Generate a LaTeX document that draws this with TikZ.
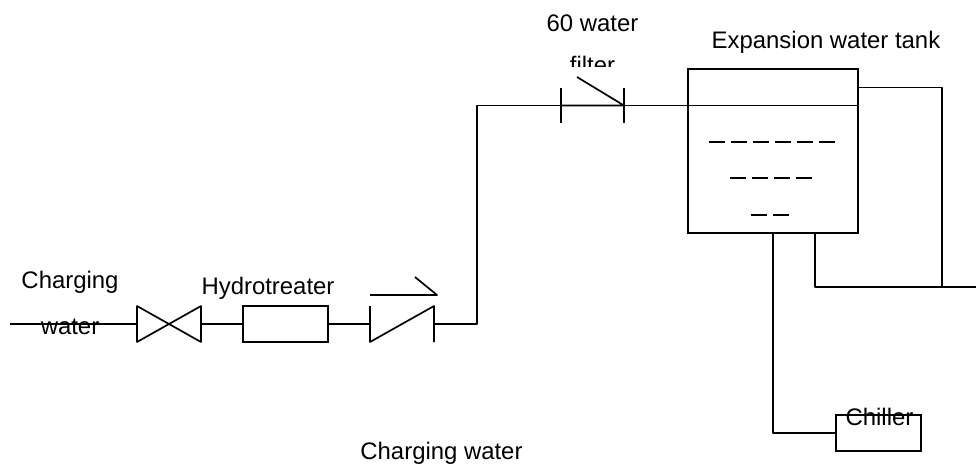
\documentclass[tikz,border=0pt]{standalone}
\usepackage{fontspec}
\setmainfont{Liberation Sans}
\usetikzlibrary{positioning}

\begin{document}
\begin{tikzpicture}[x=0.025cm, y=-0.025cm,
        pipe/.style={draw=black, line width=1.2pt, line join=round},
        vessel/.style={draw=black, line width=1.2pt, inner sep=0pt},
        unit/.style={vessel, minimum width=2.125cm, minimum height=0.9cm},
        label/.style={font=\fontsize{17pt}{20pt}\selectfont, anchor=base, inner sep=0pt},
        level/.style={pipe, dash pattern=on 0.4cm off 0.15cm},
      ]
        \useasboundingbox (0,0) rectangle (976,463);

        % equipment
        \node[vessel, minimum width=4.25cm, minimum height=4.1cm] (tank) at (773,151) {};
        \node[unit] (hydro) at (285.5,324) {};
        \node[unit] (chiller) at (878.5,433) {};

        % free ends and corners of the line
        \coordinate (inlet) at (10,324);
        \coordinate (valveL) at (137,324);
        \coordinate (valveM) at (169,324);
        \coordinate (valveR) at (201,324);
        \coordinate (checkL) at (370,324);
        \coordinate (checkR) at (434,324);
        \coordinate (filterL) at (561,105.5);
        \coordinate (filterR) at (624,105.5);
        \coordinate (riser) at (477,105.5);
        \coordinate (surfL) at (688,105.5);
        \coordinate (surfR) at (858,105.5);
        \coordinate (overflow) at (858,87.5);
        \coordinate (tee) at (942,287);
        \coordinate (drain) at (815,233);
        \coordinate (outlet) at (976,287);

        % charging line
        \draw[pipe] (inlet) -- (valveL);
        \draw[pipe] (valveL) -- ++(0,-18) -- ++(64,36) -- ++(0,-36) -- ++(-64,36) -- cycle;
        \draw[pipe] (valveR) -- (hydro);
        \draw[pipe] (hydro) -- (checkL);
        \draw[pipe] (checkL) ++(0,-18) -- ++(0,36) -- ++(64,-36) -- ++(0,36);
        \draw[pipe] (checkL) ++(0,-29) -- ++(67,0) -- ++(-22,-18);
        \draw[pipe] (checkR) -| (riser) -- (filterL);
        \draw[pipe] (filterL) ++(0,-17.5) -- ++(0,35);
        \draw[pipe] (filterR) ++(0,-17.5) -- ++(0,35);
        \draw[pipe] (filterL) -- (filterR) -- ++(-47,-28.5);
        \draw[pipe] (filterR) -- (surfL);

        % tank
        \draw[pipe] (surfL) -- (surfR);
        \draw[level] (709,142) -- (835,142);
        \draw[level] (730,178) -- (813,178);
        \draw[level] (751,215) -- (790,215);
        \draw[pipe] (overflow) -| (tee);
        \draw[pipe] (drain) |- (outlet);
        \draw[pipe] (tank.south) |- (chiller.west);

        % labels
        \node[label] (charge) at (70,288) {Charging};
        \node[label] (water) at (70,334) {water};
        \node[label] (hydrolabel) at (268,294) {Hydrotreater};
        \node[label] (sixty) at (592.5,31) {60 water};
        \begin{scope}
          \clip (540,40) rectangle (660,66);
          \node[label] (filter) at (592.5,73) {filter};
        \end{scope}
        \node[label] (tanklabel) at (826,48) {Expansion water tank};
        \node[label] (chillerlabel) at (879.5,425) {Chiller};
        \node[label] (bottom) at (441.5,459) {Charging water};
\end{tikzpicture}
\end{document}
